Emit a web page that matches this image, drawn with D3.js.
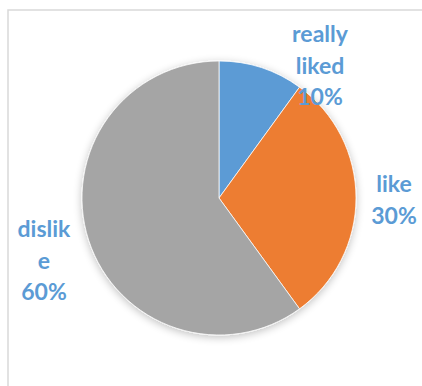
<!DOCTYPE html>
<html>
<head>
<meta charset="utf-8">
<script src="https://cdn.jsdelivr.net/npm/d3@7"></script>
<style>
  body { margin: 0; background: #fff; }
  svg { display: block; }
</style>
</head>
<body>
<svg id="chart" width="422" height="386"></svg>
<script>
var categories = ['really liked', 'like', 'dislike'];
var values = [10, 30, 60];
var colors = ['#5B9BD5', '#ED7D31', '#A5A5A5'];
// label lines as wrapped in the picture
var labelLines = [['really', 'liked', '10%'], ['like', '30%'], ['dislik', 'e', '60%']];
var labelPos = [[320, 42], [394, 192], [44, 237]];

var svg = d3.select('#chart');
var cx = 219, cy = 198, r = 137;

// chart frame
svg.append('rect')
    .attr('x', 8)
    .attr('y', 10)
    .attr('width', 430)
    .attr('height', 400)
    .attr('fill', 'none')
    .attr('stroke', '#d9d9d9')
    .attr('stroke-width', 1.5);

var defs = svg.append('defs');
var filter = defs.append('filter')
    .attr('id', 'shadow')
    .attr('x', '-20%').attr('y', '-20%')
    .attr('width', '140%').attr('height', '140%');
filter.append('feGaussianBlur')
    .attr('in', 'SourceAlpha')
    .attr('stdDeviation', 4);
filter.append('feOffset').attr('dy', 2).attr('result', 'blur');
filter.append('feComponentTransfer').append('feFuncA')
    .attr('type', 'linear').attr('slope', 0.25);
var merge = filter.append('feMerge');
merge.append('feMergeNode');
merge.append('feMergeNode').attr('in', 'SourceGraphic');

var pie = d3.pie().sort(null).value(function(d) { return d; });
var arc = d3.arc().innerRadius(0).outerRadius(r);

var g = svg.append('g')
    .attr('transform', 'translate(' + cx + ',' + cy + ')')
    .attr('filter', 'url(#shadow)');

g.selectAll('path')
  .data(pie(values))
  .enter().append('path')
    .attr('d', arc)
    .attr('fill', function(d, i) { return colors[i]; })
    .attr('stroke', '#fff')
    .attr('stroke-width', 0.75);

var labels = svg.selectAll('.label')
  .data(categories)
  .enter().append('text')
    .attr('class', 'label')
    .attr('text-anchor', 'middle')
    .attr('fill', '#5B9BD5')
    .style('font-family', 'Lato, "Open Sans", sans-serif')
    .style('font-weight', 'bold')
    .style('font-size', '23px');

labels.each(function(d, i) {
  var t = d3.select(this);
  labelLines[i].forEach(function(line, j) {
    t.append('tspan')
        .attr('x', labelPos[i][0])
        .attr('y', labelPos[i][1] + j * 31.5)
        .text(line);
  });
});
</script>
</body>
</html>
